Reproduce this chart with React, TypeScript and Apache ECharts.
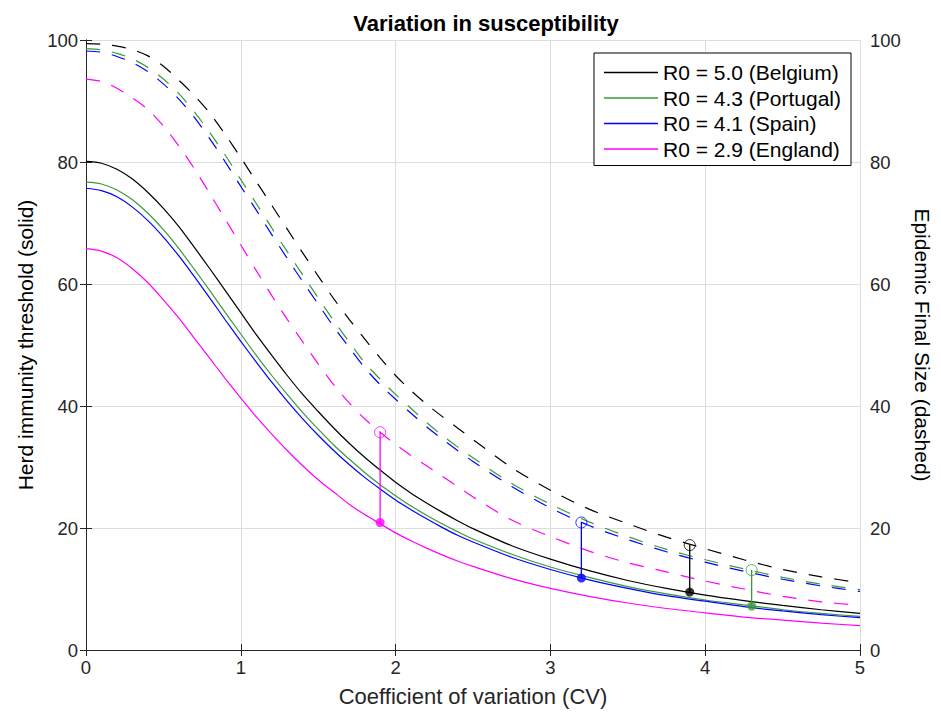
import React, { useEffect, useRef } from "react";
import * as echarts from "echarts";

// Coefficient of variation sample points
const cv = [0, 0.1, 0.2, 0.3, 0.4, 0.5, 0.6, 0.7, 0.8, 0.9, 1.0, 1.1, 1.2, 1.3, 1.4, 1.5, 1.6, 1.7, 1.8, 1.9, 2.0, 2.1, 2.2, 2.3, 2.4, 2.5, 2.75, 3.0, 3.25, 3.5, 3.75, 4.0, 4.25, 4.5, 4.75, 5.0];

// Herd immunity threshold (solid, left axis)
const hitBelgium = [80.1, 79.8, 78.8, 77.2, 75.0, 72.4, 69.4, 66.0, 62.5, 58.9, 55.3, 51.7, 48.3, 45.0, 41.9, 39.1, 36.4, 33.9, 31.6, 29.5, 27.5, 25.7, 24.1, 22.6, 21.2, 19.9, 17.1, 14.9, 13.0, 11.4, 10.1, 9.0, 8.1, 7.3, 6.6, 6.0];
const hitPortugal = [76.7, 76.4, 75.4, 73.8, 71.6, 68.9, 65.8, 62.4, 58.9, 55.3, 51.8, 48.3, 45.0, 41.9, 38.9, 36.2, 33.6, 31.3, 29.1, 27.1, 25.3, 23.6, 22.1, 20.7, 19.4, 18.2, 15.7, 13.6, 11.9, 10.4, 9.2, 8.2, 7.4, 6.6, 6.0, 5.5];
const hitSpain = [75.7, 75.3, 74.3, 72.6, 70.4, 67.7, 64.6, 61.2, 57.7, 54.1, 50.6, 47.2, 43.9, 40.8, 37.9, 35.2, 32.7, 30.4, 28.3, 26.4, 24.6, 23.0, 21.5, 20.1, 18.8, 17.7, 15.2, 13.2, 11.5, 10.1, 8.9, 8.0, 7.1, 6.4, 5.8, 5.3];
const hitEngland = [65.8, 65.4, 64.3, 62.5, 60.2, 57.4, 54.4, 51.1, 47.8, 44.5, 41.3, 38.2, 35.4, 32.7, 30.2, 27.9, 25.9, 23.9, 22.2, 20.7, 19.2, 17.9, 16.7, 15.6, 14.6, 13.7, 11.7, 10.1, 8.8, 7.7, 6.8, 6.1, 5.4, 4.9, 4.4, 4.0];

// Epidemic final size (dashed, right axis)
const fsBelgium = [99.4, 99.3, 99.0, 98.4, 97.4, 95.7, 93.4, 90.9, 88.0, 84.5, 80.7, 76.8, 72.9, 69.0, 65.1, 61.3, 57.6, 54.2, 51.0, 47.9, 45.0, 42.5, 40.3, 38.3, 36.4, 34.5, 29.9, 26.2, 23.1, 20.7, 18.5, 16.6, 14.8, 13.2, 12.0, 11.0];
const fsPortugal = [98.6, 98.4, 97.8, 96.9, 95.5, 93.6, 91.2, 88.2, 84.8, 81.1, 77.1, 73.2, 69.2, 65.3, 61.5, 57.7, 54.0, 50.5, 47.1, 44.4, 41.9, 39.6, 37.3, 35.2, 33.3, 31.5, 27.3, 23.9, 21.0, 18.6, 16.5, 14.8, 13.3, 11.9, 10.8, 9.9];
const fsSpain = [98.2, 98.0, 97.3, 96.3, 94.8, 92.8, 90.3, 87.3, 83.8, 80.0, 76.0, 72.1, 68.1, 64.2, 60.4, 56.7, 53.0, 49.6, 46.3, 43.5, 41.1, 38.8, 36.6, 34.6, 32.7, 30.9, 26.8, 23.3, 20.4, 18.1, 16.1, 14.4, 12.9, 11.6, 10.5, 9.6];
const fsEngland = [93.6, 93.2, 92.1, 90.5, 88.6, 85.9, 82.6, 78.9, 74.8, 70.6, 66.4, 62.2, 58.1, 54.2, 50.5, 46.9, 43.5, 40.5, 37.9, 35.7, 33.7, 31.9, 30.2, 28.5, 26.8, 25.1, 21.3, 18.6, 16.2, 14.3, 12.8, 11.3, 10.0, 8.8, 7.9, 7.3];

const names = ["R0 = 5.0 (Belgium)", "R0 = 4.3 (Portugal)", "R0 = 4.1 (Spain)", "R0 = 2.9 (England)"];
const colors = ["#000000", "#3a9a3a", "#0000ff", "#ff00ff"];
const hitSeries = [hitBelgium, hitPortugal, hitSpain, hitEngland];
const fsSeries = [fsBelgium, fsPortugal, fsSpain, fsEngland];

// Markers: index into the country lists above
const markerCountry = [3, 2, 0, 1];
const markerCV = [1.9, 3.2, 3.9, 4.3];
const markerHIT = [20.9, 11.8, 9.5, 7.2];
const markerFS = [35.7, 20.9, 17.2, 13.1];

const FONT = "Liberation Sans, Arial, Helvetica, sans-serif";
const AX = "#262626";

export default function App() {
  const ref = useRef<HTMLDivElement>(null);
  useEffect(() => {
    if (!ref.current) return;
    const chart = echarts.init(ref.current, undefined, { renderer: "svg" });
    const series: any[] = [];
    fsSeries.forEach((vals, i) => {
      series.push({
        name: names[i] + " final size",
        type: "line",
        yAxisIndex: 1,
        data: cv.map((x, k) => [x, vals[k]]),
        showSymbol: false,
        symbol: "none",
        smooth: 0.3,
        lineStyle: { color: colors[i], width: 1.2, type: [14, 12] },
        itemStyle: { color: colors[i] },
        z: 2,
      });
    });
    hitSeries.forEach((vals, i) => {
      series.push({
        name: names[i],
        type: "line",
        yAxisIndex: 0,
        data: cv.map((x, k) => [x, vals[k]]),
        showSymbol: false,
        symbol: "none",
        smooth: 0.3,
        lineStyle: { color: colors[i], width: 1.2 },
        itemStyle: { color: colors[i] },
        z: 3,
      });
    });
    markerCV.forEach((x, m) => {
      const c = colors[markerCountry[m]];
      series.push({
        name: "marker line " + m,
        type: "line",
        yAxisIndex: 0,
        data: [[x, markerHIT[m]], [x, markerFS[m]]],
        showSymbol: false,
        symbol: "none",
        lineStyle: { color: c, width: 1.3 },
        z: 4,
      });
      series.push({
        name: "marker hit " + m,
        type: "scatter",
        yAxisIndex: 0,
        data: [[x, markerHIT[m]]],
        symbol: "circle",
        symbolSize: 9,
        itemStyle: { color: c },
        z: 5,
      });
      series.push({
        name: "marker fs " + m,
        type: "scatter",
        yAxisIndex: 1,
        data: [[x, markerFS[m]]],
        symbol: "circle",
        symbolSize: 11,
        itemStyle: { color: "rgba(255,255,255,0)", borderColor: c, borderWidth: 1 },
        z: 5,
      });
    });

    chart.setOption({
      animation: false,
      textStyle: { fontFamily: FONT },
      title: {
        text: "Variation in susceptibility",
        left: 481,
        textAlign: "center",
        top: 7,
        textStyle: { fontSize: 22, fontWeight: "bold", color: "#000", fontFamily: FONT },
      },
      grid: { left: 86, right: 79, top: 40, bottom: 68 },
      legend: {
        data: names,
        orient: "vertical",
        right: 90,
        top: 53,
        icon: "rect",
        itemWidth: 54,
        itemHeight: 1.3,
        itemGap: 4.5,
        padding: [9, 10, 6, 10],
        borderColor: "#000",
        borderWidth: 1,
        backgroundColor: "#fff",
        textStyle: { fontSize: 21, color: "#000", fontFamily: FONT },
      },
      xAxis: [
        {
          type: "value",
          min: 0,
          max: 5,
          interval: 1,
          position: "bottom",
          name: "Coefficient of variation (CV)",
          nameLocation: "middle",
          nameGap: 35,
          nameTextStyle: { fontSize: 22, color: AX, fontFamily: FONT },
          axisLine: { show: true, lineStyle: { color: AX, width: 1 } },
          axisTick: { show: true, inside: true, length: 6, lineStyle: { color: AX } },
          axisLabel: { fontSize: 18.5, color: AX, margin: 8 },
          splitLine: { show: true, lineStyle: { color: "#dddddd", width: 1 } },
        },
        {
          type: "value",
          min: 0,
          max: 5,
          interval: 1,
          position: "top",
          axisLine: { show: true, lineStyle: { color: AX, width: 1 } },
          axisTick: { show: true, inside: true, length: 6, lineStyle: { color: AX } },
          axisLabel: { show: false },
          splitLine: { show: false },
        },
      ],
      yAxis: [
        {
          type: "value",
          min: 0,
          max: 100,
          interval: 20,
          position: "left",
          name: "Herd immunity threshold (solid)",
          nameLocation: "middle",
          nameGap: 50,
          nameTextStyle: { fontSize: 21, color: "#000", fontFamily: FONT },
          axisLine: { show: true, lineStyle: { color: AX, width: 1 } },
          axisTick: { show: true, inside: true, length: 6, lineStyle: { color: AX } },
          axisLabel: { fontSize: 18.5, color: AX, margin: 8 },
          splitLine: { show: true, lineStyle: { color: "#dddddd", width: 1 } },
        },
        {
          type: "value",
          min: 0,
          max: 100,
          interval: 20,
          position: "right",
          name: "Epidemic Final Size (dashed)",
          nameLocation: "middle",
          nameGap: 52,
          nameRotate: -90,
          nameTextStyle: { fontSize: 21, color: "#000", fontFamily: FONT },
          axisLine: { show: true, lineStyle: { color: AX, width: 1 } },
          axisTick: { show: true, inside: true, length: 6, lineStyle: { color: AX } },
          axisLabel: { fontSize: 18.5, color: AX, margin: 10 },
          splitLine: { show: false },
        },
      ],
      series,
    });
    return () => chart.dispose();
  }, []);
  return <div ref={ref} style={{ position: "absolute", left: 0, top: 0, width: 941, height: 718 }} />;
}
